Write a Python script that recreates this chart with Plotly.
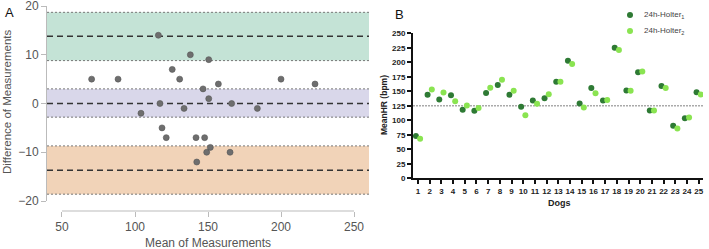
import plotly.graph_objects as go

W, H = 709, 249

# ---------------- Panel A data (Bland-Altman) ----------------
a_mean = [70.3, 88.4, 104.1, 116.0, 117.1, 118.5, 121.4, 125.5, 130.6, 133.6,
          137.9, 141.8, 142.3, 146.6, 147.7, 149.1, 150.5, 150.5, 151.6, 157.1,
          165.1, 166.2, 183.8, 200.0, 223.3]
a_diff = [5, 5, -2, 14, 0, -5, -7, 7, 5, -1,
          10, -7, -12, 3, -7, -10, 1, 9, -9, 4,
          -10, 0, -1, 5, 4]
band_center = [13.8, 0.0, -13.7]
band_low = [8.8, -2.8, -18.6]
band_high = [18.7, 3.0, -8.7]
band_colors = ["#c4e3d6", "#d9d7ea", "#f1d3b8"]
a_xticks = [50, 100, 150, 200, 250]
a_yticks = [-20, -10, 0, 10, 20]

# ---------------- Panel B data ----------------
dogs = list(range(1, 26))
holter1 = [73, 144, 136, 143, 118, 116.5, 147, 161, 144, 123.5,
           134, 138, 166.5, 202.5, 129, 155.5, 134, 225, 151.5, 183,
           117, 159, 90.5, 103.5, 148.5]
holter2 = [68, 153, 148, 133, 125.5, 121, 156, 170, 151, 108.5,
           128.5, 145, 166.5, 197, 122, 146.5, 135, 221, 151, 184,
           117, 155.5, 86, 105, 144.5]
b_yticks = list(range(0, 251, 25))
ref_line = 125
series_names = ["24h-Holter<sub>1</sub>", "24h-Holter<sub>2</sub>"]
series_colors = ["#2e7a34", "#8ae451"]


def px(x):
    return x / W


def py(y):
    return 1 - y / H


fig = go.Figure()

# Panel A points
fig.add_trace(go.Scatter(
    x=a_mean, y=a_diff, mode="markers", xaxis="x", yaxis="y",
    marker=dict(size=6, color="#6e6e6e", line=dict(color="#555555", width=0.6)),
    showlegend=False, hoverinfo="skip"))

# Panel B points
off = 0.18
fig.add_trace(go.Scatter(
    x=[d - off for d in dogs], y=holter1, mode="markers", xaxis="x2", yaxis="y2",
    name=series_names[0], showlegend=False,
    marker=dict(size=6, color=series_colors[0])))
fig.add_trace(go.Scatter(
    x=[d + off for d in dogs], y=holter2, mode="markers", xaxis="x2", yaxis="y2",
    name=series_names[1], showlegend=False,
    marker=dict(size=6, color=series_colors[1])))

shapes = []
# bands and lines of panel A
for c, lo, hi, col in zip(band_center, band_low, band_high, band_colors):
    shapes.append(dict(type="rect", xref="x domain", yref="y", x0=0, x1=1, y0=lo, y1=hi,
                       fillcolor=col, line=dict(width=0), layer="below"))
    for v in (lo, hi):
        shapes.append(dict(type="line", xref="x domain", yref="y", x0=0, x1=1, y0=v, y1=v,
                           line=dict(color="#777777", width=1, dash="2px,2px"), layer="below"))
    shapes.append(dict(type="line", xref="x domain", yref="y", x0=0, x1=1, y0=c, y1=c,
                       line=dict(color="#333333", width=1.5, dash="6px,4px"), layer="below"))
# detached x-axis line of panel A
shapes.append(dict(type="line", xref="x", yref="paper", x0=a_xticks[0], x1=a_xticks[-1],
                   y0=py(211), y1=py(211), line=dict(color="#bbbbbb", width=1)))
# reference line panel B
shapes.append(dict(type="line", xref="x2 domain", yref="y2", x0=0, x1=1, y0=ref_line, y1=ref_line,
                   line=dict(color="#aaaaaa", width=1.5, dash="2px,1px"), layer="below"))


def ann(text, x, y, size, color, angle=0, weight="normal", xanchor="center"):
    return dict(text=text, x=px(x), y=py(y), xref="paper", yref="paper",
                xanchor=xanchor, yanchor="middle", textangle=angle, showarrow=False,
                font=dict(size=size, color=color, family="Liberation Sans", weight=weight))


annotations = [
    ann("A", 9, 13, 13, "#111111"),
    ann("B", 399, 14, 13, "#111111"),
    ann("Mean of Measurements", 208, 243, 12, "#555555"),
    ann("Difference of Measurements", 7, 102, 11.5, "#555555", angle=-90),
    ann("MeanHR (bpm)", 384, 105, 8.5, "#222222", angle=-90, weight="bold"),
    ann("Dogs", 559, 203, 9, "#222222", weight="bold"),
]

# manual legend (panel B)
leg_y = [15, 31]
for name, col, yy in zip(series_names, series_colors, leg_y):
    shapes.append(dict(type="circle", xref="paper", yref="paper",
                       x0=px(627), x1=px(633), y0=py(yy + 3), y1=py(yy - 3),
                       fillcolor=col, line=dict(width=0)))
    annotations.append(ann(name, 642, yy, 8, "#444444", xanchor="left"))

fig.update_layout(
    width=W, height=H, margin=dict(l=0, r=0, t=0, b=0, autoexpand=False),
    paper_bgcolor="white", plot_bgcolor="rgba(0,0,0,0)",
    shapes=shapes, annotations=annotations,
    showlegend=False,
    xaxis=dict(domain=[px(47), px(369)], range=[39.73, 260.27], anchor="free", position=py(211),
               tickvals=a_xticks, ticks="outside", ticklen=5, tickcolor="#bbbbbb",
               showline=False, showgrid=False, zeroline=False, automargin=False,
               ticklabeloverflow="allow",
               tickfont=dict(size=12, color="#555555", family="Liberation Sans")),
    yaxis=dict(domain=[py(201), py(6)], range=[-20, 20], anchor="x",
               tickvals=a_yticks, ticks="outside", ticklen=5, tickcolor="#bbbbbb",
               showline=True, linecolor="#bbbbbb", linewidth=1,
               showgrid=False, zeroline=False, automargin=False,
               ticklabeloverflow="allow",
               tickfont=dict(size=12, color="#555555", family="Liberation Sans")),
    xaxis2=dict(domain=[px(413), px(703)], range=[0.5725, 25.37], anchor="y2",
                tickvals=dogs, ticks="outside", ticklen=4, tickwidth=1.5, tickcolor="#111111",
                showline=True, linecolor="#111111", linewidth=2,
                showgrid=False, zeroline=False, automargin=False,
                ticklabeloverflow="allow",
                tickfont=dict(size=8, color="#222222", family="Liberation Sans", weight="bold")),
    yaxis2=dict(domain=[py(178.3), py(33.3)], range=[0, 250], anchor="x2",
                tickvals=b_yticks, ticks="outside", ticklen=4, tickwidth=1.5, tickcolor="#111111",
                showline=True, linecolor="#111111", linewidth=2,
                showgrid=False, zeroline=False, automargin=False,
                ticklabeloverflow="allow",
                tickfont=dict(size=8, color="#222222", family="Liberation Sans", weight="bold")),
)

fig.write_html("out.html")
